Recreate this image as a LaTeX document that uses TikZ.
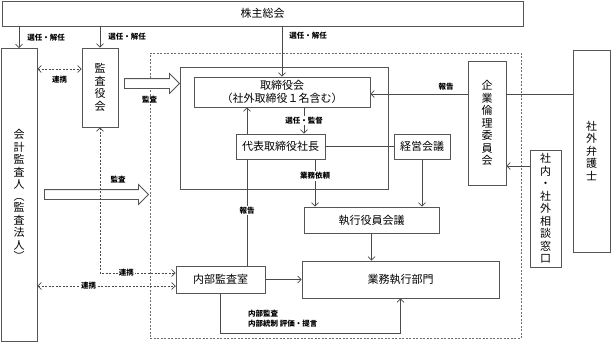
\documentclass[tikz,border=0pt]{standalone}
\usepackage{fontspec}
\setmainfont{Noto Sans CJK JP}
\usetikzlibrary{arrows.meta,calc,positioning,shapes.arrows}
\definecolor{frame}{HTML}{555555}
\definecolor{wire}{HTML}{4A4A4A}
\tikzset{
  box/.style={
    draw=frame,
    line width=0.8pt,
    fill=white,
    align=center,
    inner sep=0pt,
    font=\fontsize{11}{13}\selectfont
  },
  tate/.style={box, font=\fontsize{11}{12.5}\selectfont},
  region/.style={draw=frame, line width=0.8pt, inner sep=0pt},
  dashRegion/.style={draw=frame!85, line width=0.7pt, dash pattern=on 2pt off 1.5pt, inner sep=0pt},
  link/.style={draw=wire, line width=0.7pt, -{Straight Barb[length=3.5pt,width=7pt]}},
  plain/.style={draw=wire, line width=0.7pt},
  coop/.style={draw=wire, line width=0.7pt, dash pattern=on 2pt off 1.5pt,
    {Straight Barb[length=3.5pt,width=7pt]}-{Straight Barb[length=3.5pt,width=7pt]}},
  smallLabel/.style={font=\fontsize{7.5}{10}\selectfont\bfseries, inner sep=1pt},
  fatArrow/.style={single arrow, draw=frame, line width=0.8pt, fill=white,
    inner xsep=0pt, inner ysep=4.5pt, single arrow head extend=5pt}
}

\begin{document}
\begin{tikzpicture}[x=1pt,y=-1pt]
\path[use as bounding box] (0,0) rectangle (611,343);

\node[dashRegion, minimum width=371, minimum height=285] (company) at (335.5,195.5) {};
\node[region, minimum width=208, minimum height=122] (boardArea) at (284,128) {};

\node[box, minimum width=521, minimum height=25] (agm) at (262.5,13.5) {株主総会};
\node[tate, minimum width=36, minimum height=293] (auditor) at (19,195)
  {会\\計\\監\\査\\人\\[-1pt]︵\\[-1pt]監\\査\\法\\人\\[-1pt]︶};
\node[tate, minimum width=36, minimum height=79] (kansayaku) at (100,87.5) {監\\査\\役\\会};
\node[box, minimum width=176, minimum height=30] (board) at (282,92) {取締役会\\（社外取締役１名含む）};
\node[box, minimum width=89, minimum height=25] (president) at (280.5,146.5) {代表取締役社長};
\node[box, minimum width=56, minimum height=25] (mgmt) at (422,146.5) {経営会議};
\node[box, minimum width=135, minimum height=26] (execCouncil) at (371.5,220) {執行役員会議};
\node[box, minimum width=197, minimum height=37] (business) at (400.5,279.5) {業務執行部門};
\node[box, minimum width=89, minimum height=27] (internalAudit) at (220.5,279.5) {内部監査室};
\node[tate, minimum width=38, minimum height=124] (ethics) at (487,123) {企\\業\\倫\\理\\委\\員\\会};
\node[tate, minimum width=37, minimum height=202] (lawyer) at (591.5,151) {社\\外\\弁\\護\\士};
\node[tate, minimum width=31, minimum height=117] (hotline) at (545.5,208.5) {社\\内\\・\\社\\外\\相\\談\\窓\\口};

\node[fatArrow, minimum height=55] (auditArrow) at (149.5,83.5) {};
\node[smallLabel, below=6pt of auditArrow] (auditTag) {監査};
\node[fatArrow, minimum height=104] (extAuditArrow) at (94,194.5) {};
\node[smallLabel, above=5pt of extAuditArrow, xshift=24pt] (extAuditTag) {監査};

% appointment from the shareholders
\draw[link] (agm.south -| auditor) -- (auditor.north) node[smallLabel, midway, right=7pt] {選任・解任};
\draw[link] (agm.south -| kansayaku) -- (kansayaku.north) node[smallLabel, midway, right=7pt] {選任・解任};
\draw[link] (agm.south -| board) -- (board.north) node[smallLabel, pos=0.18, right=6pt] {選任・解任};

% cooperation between auditors
\coordinate (kansaTie) at ([yshift=18.5pt]kansayaku.west);
\coordinate (tieHigh) at ([yshift=6.5pt]internalAudit.west);
\coordinate (tieLow) at ([yshift=-6.5pt]internalAudit.west);
\draw[coop] (auditor.east |- kansaTie) -- (kansaTie) node[smallLabel, midway, below=6pt] {連携};
\draw[coop] (kansayaku.south) |- (tieHigh) node[smallLabel, pos=0.675, fill=white] {連携};
\draw[coop] (auditor.east |- tieLow) -- (tieLow) node[smallLabel, pos=0.37, fill=white] {連携};

% ethics line
\coordinate (ethicsTop) at ([yshift=29pt]ethics.west);
\coordinate (hotlineOut) at ([yshift=42.5pt]hotline.west);
\draw[link] (ethicsTop) -- (board.east |- ethicsTop) node[smallLabel, pos=0.22, above=2pt] {報告};
\draw[plain] (lawyer.west |- ethicsTop) -- (ethics.east |- ethicsTop);
\draw[link] (hotlineOut) -- (ethics.east |- hotlineOut);

% execution
\coordinate (appoint) at ([xshift=23.5pt]president.north);
\coordinate (reportUp) at ([xshift=26.5pt]internalAudit.north);
\coordinate (request) at ([xshift=34.5pt]president.south);
\draw[link] (board.south -| appoint) -- (appoint) node[smallLabel, midway, fill=white] {選任・監督};
\draw[plain] (reportUp) -- (president.south -| reportUp) node[smallLabel, pos=0.52, fill=white] {報告};
\draw[link] (president.north -| reportUp) -- (board.south -| reportUp);
\draw[plain] (president) -- (mgmt);
\draw[link] (request) -- (execCouncil.north -| request) node[smallLabel, pos=0.35, fill=white] {業務依頼};
\draw[link] (mgmt.south) -- (execCouncil.north -| mgmt.south);
\draw[link] (execCouncil.south) -- (business.north -| execCouncil.south);
\draw[link] (internalAudit) -- (business);
\draw[link] (internalAudit.south) -- ++(0,40) -| (business.south);
\node[smallLabel, align=left, anchor=west] (auditNote) at (247,318.5) {内部監査\\内部統制 評価・提言};
\end{tikzpicture}
\end{document}
